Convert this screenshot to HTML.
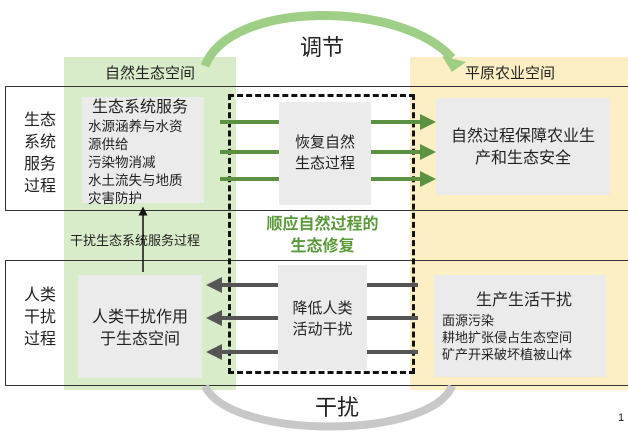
<!DOCTYPE html>
<html><head><meta charset="utf-8"><style>
body{margin:0;width:628px;height:435px;background:#fff;position:relative;overflow:hidden;font-family:"Liberation Sans","Noto Sans CJK SC",sans-serif;color:#222}
.a{position:absolute}
.g{background:#ebebeb}
.c{text-align:center}
</style></head><body>
<div class="a" style="left:64px;top:57px;width:172px;height:333px;background:#d9ecc9"></div>
<div class="a" style="left:410px;top:57px;width:218px;height:333px;background:#fbefc3"></div>
<div class="a c" style="left:64px;top:62px;width:172px;font-size:15px">自然生态空间</div>
<div class="a c" style="left:410px;top:62px;width:200px;font-size:15px">平原农业空间</div>
<div class="a" style="left:5px;top:86px;width:640px;height:125px;border:1.5px solid #333;box-sizing:border-box"></div>
<div class="a" style="left:5px;top:260px;width:640px;height:126px;border:1.5px solid #333;box-sizing:border-box"></div>
<div class="a" style="left:228px;top:94px;width:187px;height:280px;border:3px dashed #111;box-sizing:border-box"></div>
<div class="a g" style="left:82px;top:97px;width:122px;height:106px"></div>
<div class="a g" style="left:279px;top:102px;width:92px;height:103px"></div>
<div class="a g" style="left:436px;top:98px;width:174px;height:97px"></div>
<div class="a g" style="left:78px;top:275px;width:124px;height:103px"></div>
<div class="a g" style="left:278px;top:265px;width:89px;height:105px"></div>
<div class="a g" style="left:434px;top:275px;width:172px;height:102px"></div>
<div class="a c" style="left:20px;top:110px;width:40px;font-size:16px;line-height:22px">生态<br>系统<br>服务<br>过程</div>
<div class="a c" style="left:20px;top:285px;width:40px;font-size:16px;line-height:22px">人类<br>干扰<br>过程</div>
<div class="a" style="left:88px;top:98px;font-size:13.5px;line-height:18px"><div style="font-size:16px;margin-left:4px;line-height:20px">生态系统服务</div>水源涵养与水资<br>源供给<br>污染物消减<br>水土流失与地质<br>灾害防护</div>
<div class="a c" style="left:279px;top:132px;width:92px;font-size:15px;line-height:21px">恢复自然<br>生态过程</div>
<div class="a c" style="left:436px;top:126px;width:174px;font-size:16px;line-height:22px">自然过程保障农业生<br>产和生态安全</div>
<div class="a c" style="left:78px;top:307px;width:124px;font-size:16px;line-height:22px">人类干扰作用<br>于生态空间</div>
<div class="a c" style="left:278px;top:298px;width:89px;font-size:15px;line-height:21px">降低人类<br>活动干扰</div>
<div class="a" style="left:442px;top:290px;font-size:13px;line-height:17px"><div style="font-size:16px;text-align:center;width:164px;line-height:22px">生产生活干扰</div>面源污染<br>耕地扩张侵占生态空间<br>矿产开采破坏植被山体</div>
<div class="a" style="left:70px;top:230px;font-size:13px">干扰生态系统服务过程</div>
<div class="a c" style="left:250px;top:214px;width:145px;font-size:16px;line-height:22px;color:#5a9a3a;font-weight:bold">顺应自然过程的<br>生态修复</div>
<div class="a c" style="left:290px;top:30px;width:64px;font-size:22px">调节</div>
<div class="a c" style="left:305px;top:390px;width:64px;font-size:22px">干扰</div>
<div class="a" style="left:618px;top:412px;font-size:11px">1</div>
<svg class="a" style="left:0;top:0" width="628" height="435">
<defs><marker id="gh" markerWidth="4" markerHeight="4" refX="2" refY="2" orient="auto"><path d="M0,0L4,2L0,4z" fill="#5b9140"/></marker>
<marker id="dh" markerWidth="4" markerHeight="4" refX="2" refY="2" orient="auto"><path d="M0,0L4,2L0,4z" fill="#555"/></marker>
<marker id="kh" markerWidth="6" markerHeight="6" refX="5" refY="3" orient="auto"><path d="M0,0L6,3L0,6z" fill="#111"/></marker></defs>
<path d="M205,66 C230,0 400,0 452,58" fill="none" stroke="#9fcf86" stroke-width="9"/>
<path d="M442,56 L466,62 L452,72z" fill="#9fcf86"/>
<path d="M205,386 C230,440 430,440 452,386" fill="none" stroke="#c8c8c8" stroke-width="8"/>
<g stroke="#5b9140" stroke-width="4">
<line x1="220" y1="122" x2="279" y2="122"/><line x1="220" y1="152" x2="279" y2="152"/><line x1="220" y1="179" x2="279" y2="179"/>
<line x1="371" y1="122" x2="428" y2="122" marker-end="url(#gh)"/><line x1="371" y1="152" x2="428" y2="152" marker-end="url(#gh)"/><line x1="371" y1="179" x2="428" y2="179" marker-end="url(#gh)"/>
</g>
<g stroke="#555" stroke-width="4">
<line x1="278" y1="285" x2="214" y2="285" marker-end="url(#dh)"/><line x1="278" y1="318" x2="214" y2="318" marker-end="url(#dh)"/><line x1="278" y1="352" x2="214" y2="352" marker-end="url(#dh)"/>
<line x1="367" y1="285" x2="418" y2="285"/><line x1="367" y1="318" x2="418" y2="318"/><line x1="367" y1="352" x2="418" y2="352"/>
</g>
<line x1="143" y1="272" x2="143" y2="208" stroke="#111" stroke-width="1.5" marker-end="url(#kh)"/>
</svg>
</body></html>
